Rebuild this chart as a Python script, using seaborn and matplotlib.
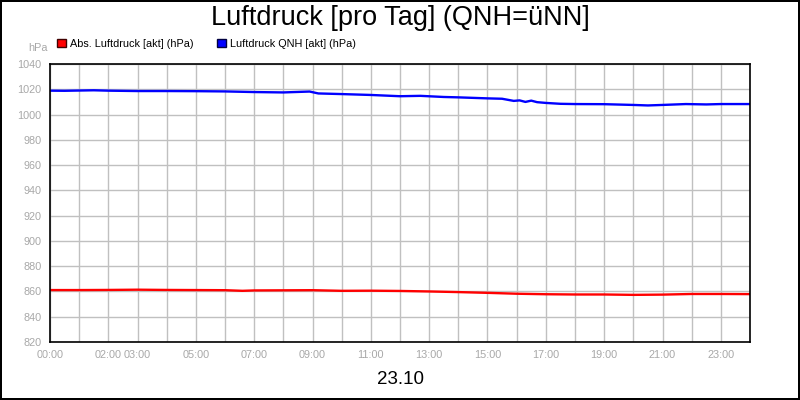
import pandas as pd
import seaborn as sns
from matplotlib import pyplot as plt
from matplotlib.patches import Patch

hours_abs = [0, 1, 2, 3, 4, 5, 6, 6.6, 7, 8, 9, 10, 11, 12, 13, 14, 15, 16, 17, 18, 19, 20, 21, 22, 23, 24]
abs_hpa = [861.1, 861.1, 861.2, 861.4, 861.2, 861.1, 861.0, 860.5, 860.8, 860.9, 861.0, 860.5, 860.6,
           860.4, 860.0, 859.5, 858.9, 858.2, 857.8, 857.6, 857.6, 857.3, 857.5, 858.0, 858.0, 857.9]

hours_qnh = [0, 0.5, 1.5, 2, 3, 4, 5, 6, 7, 8, 8.9, 9.2, 10, 11, 12, 12.7, 13.5, 14, 15, 15.5, 15.9,
             16.1, 16.3, 16.5, 16.7, 17, 17.5, 18, 19, 20, 20.5, 21, 21.8, 22.5, 23, 24]
qnh_hpa = [1018.9, 1018.8, 1019.2, 1018.9, 1018.6, 1018.6, 1018.5, 1018.3, 1017.8, 1017.5, 1018.2,
           1016.7, 1016.2, 1015.5, 1014.5, 1014.8, 1013.9, 1013.6, 1012.8, 1012.5, 1010.8,
           1011.2, 1010.0, 1011.0, 1009.8, 1009.2, 1008.5, 1008.3, 1008.2, 1007.6, 1007.2,
           1007.6, 1008.3, 1008.0, 1008.3, 1008.3]

y_ticks = list(range(820, 1041, 20))
x_tick_hours = [0, 2, 3, 5, 7, 9, 11, 13, 15, 17, 19, 21, 23]

sns.set_style('white')
plt.rcParams['font.family'] = ['Liberation Sans', 'DejaVu Sans']
plt.rcParams['text.color'] = 'black'

fig = plt.figure(figsize=(8, 4), dpi=100, edgecolor='black', linewidth=1.5)
ax = fig.add_axes([50 / 800, 1 - 342 / 400, 700 / 800, 278 / 400])

df_abs = pd.DataFrame({'Stunde': hours_abs, 'hPa': abs_hpa})
df_qnh = pd.DataFrame({'Stunde': hours_qnh, 'hPa': qnh_hpa})
sns.lineplot(data=df_abs, x='Stunde', y='hPa', color='#ff0000', linewidth=1.7, ax=ax)
sns.lineplot(data=df_qnh, x='Stunde', y='hPa', color='#0000ff', linewidth=1.7, ax=ax)

ax.set_xlim(0, 24)
ax.set_ylim(820, 1040)
ax.set_yticks(y_ticks)
ax.set_yticklabels([str(v) for v in y_ticks])
ax.set_xticks(range(0, 25))
ax.set_xticklabels([f'{h:02d}:00' if h in x_tick_hours else '' for h in range(0, 25)])
ax.tick_params(axis='both', colors='#b4b4b4', labelsize=7.8, length=5, width=1, direction='out', pad=1)
ax.tick_params(axis='both', labelcolor='#a8a8a8')
ax.grid(True, color='#c0c0c0', linewidth=1)
ax.set_axisbelow(True)
for spine in ax.spines.values():
    spine.set_color('black')
    spine.set_linewidth(1.2)
ax.set_xlabel('')
ax.set_ylabel('')

fig.text(0.5, 1 - 18 / 400, 'Luftdruck [pro Tag] (QNH=üNN]', ha='center', va='center', fontsize=19.5)
fig.text(48 / 800, 1 - 48 / 400, 'hPa', ha='right', va='center', fontsize=7.8, color='#a8a8a8')
fig.text(0.5, 1 - 379 / 400, '23.10', ha='center', va='center', fontsize=13.5)

handles = [Patch(facecolor='#ff0000', edgecolor='#400000', label='Abs. Luftdruck [akt] (hPa)'),
           Patch(facecolor='#0000ff', edgecolor='#000040', label='Luftdruck QNH [akt] (hPa)')]
fig.legend(handles=handles, loc='center left', bbox_to_anchor=(57 / 800, 1 - 44 / 400), ncol=2,
           frameon=False, fontsize=7.8, handlelength=0.8, handleheight=0.8, handletextpad=0.4,
           columnspacing=2.2, borderaxespad=0, borderpad=0)

plt.savefig('out.png', dpi=100, edgecolor=fig.get_edgecolor())
